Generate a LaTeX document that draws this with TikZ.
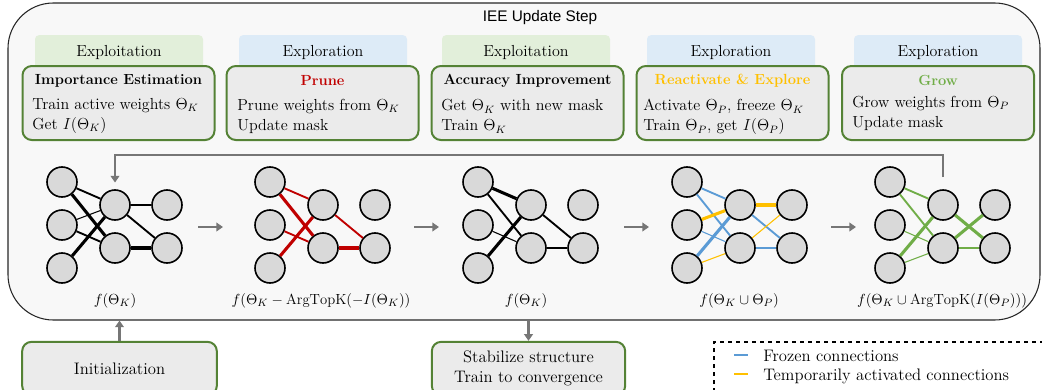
\documentclass[tikz,border=0pt]{standalone}
\usepackage{fontspec}
\newfontfamily\headfont{Liberation Sans}
\usetikzlibrary{arrows.meta,positioning}
\definecolor{cardgreen}{HTML}{548235}
\definecolor{cardgray}{HTML}{EBEBEB}
\definecolor{outerfill}{HTML}{F8F8F8}
\definecolor{tabgreen}{HTML}{E2EFDA}
\definecolor{tabblue}{HTML}{DDEBF7}
\definecolor{nodegray}{HTML}{D9D9D9}
\definecolor{arrowgray}{HTML}{767676}
\definecolor{netred}{HTML}{C00000}
\definecolor{netgold}{HTML}{FFC000}
\definecolor{netblue}{HTML}{5B9BD5}
\definecolor{netgreen}{HTML}{70AD47}

\begin{document}
\begin{tikzpicture}[x=0.75pt,y=-0.75pt]
\tikzset{neuron/.style = {circle, draw=black, line width=1.2pt, fill=nodegray, minimum size=22.5pt, inner sep=0pt}}
\tikzset{w1/.style = {line width=0.8pt}, w2/.style = {line width=1.4pt}, w3/.style = {line width=2.3pt}}
\tikzset{flow/.style = {-{Triangle[length=5pt,width=6.5pt]}, draw=arrowgray, line width=1.8pt}}
\tikzset{card/.style = {rectangle, rounded corners=7pt, draw=cardgreen, line width=1.5pt, fill=cardgray, minimum width=144pt, minimum height=55.5pt}}
\tikzset{tab/.style = {rectangle, rounded corners=3pt, minimum width=126pt, minimum height=26pt, inner sep=0pt, font=\fontsize{12}{14}\selectfont}}
\tikzset{cardtitle/.style = {font=\fontsize{11}{13}\selectfont\bfseries, inner sep=0pt}}
\tikzset{cardbody/.style = {anchor=west, align=left, inner sep=0pt, font=\fontsize{12}{15}\selectfont}}

   \useasboundingbox (0,0) rectangle (1042,389);
   \clip (0,0) rectangle (1042,389);

   % outer update step
   \node[draw=black!85, fill=outerfill, line width=0.8pt, rounded corners=34pt, minimum width=774pt, minimum height=237.75pt] (iee) at (524,161.5) {};
   \node[font=\headfont\fontsize{11.5}{13}\selectfont] (ieetitle) at (540,18) {IEE Update Step};

   % phase tabs and cards
   \node[tab, fill=tabgreen] (tab1) at (119,52.5) {Exploitation};
   \node[tab, fill=tabblue]  (tab2) at (323,52.5) {Exploration};
   \node[tab, fill=tabgreen] (tab3) at (526,52.5) {Exploitation};
   \node[tab, fill=tabblue]  (tab4) at (731,52.5) {Exploration};
   \node[tab, fill=tabblue]  (tab5) at (938,52.5) {Exploration};
   \foreach \k/\x in {1/118.5,2/322.5,3/527.5,4/732.5,5/938}
     {\node[card] (card\k) at (\x,103) {};}

   \node[cardtitle] (ttl1) at (118.5,81) {Importance Estimation};
   \node[cardbody] (body1) at (32,116) {Train active weights $\Theta_K$\\Get $I(\Theta_K)$};
   \node[cardtitle, text=netred] (ttl2) at (322.5,81) {Prune};
   \node[cardbody] (body2) at (237,116.5) {Prune weights from $\Theta_K$\\Update mask};
   \node[cardtitle] (ttl3) at (527.5,81) {Accuracy Improvement};
   \node[cardbody] (body3) at (441,116.5) {Get $\Theta_K$ with new mask\\Train $\Theta_K$};
   \node[cardtitle, text=netgold] (ttl4) at (732.5,81) {Reactivate \& Explore};
   \node[cardbody] (body4) at (643,117) {Activate $\Theta_P$, freeze $\Theta_K$\\Train $\Theta_P$, get $I(\Theta_P)$};
   \node[cardtitle, text=netgreen] (ttl5) at (938,80) {Grow};
   \node[cardbody] (body5) at (852,113.5) {Grow weights from $\Theta_P$\\Update mask};

   % networks
   \foreach \n/\x in {1/62,2/270,3/478,4/687,5/890}
     {\foreach \i/\y in {1/182,2/225,3/268}
        {\node[neuron] (n\n-i\i) at (\x,\y) {};}
      \foreach \j/\y in {1/205,2/248}
        {\node[neuron] (n\n-h\j) at (\x+53,\y) {};
         \node[neuron] (n\n-o\j) at (\x+105,\y) {};}}

   \foreach \a/\b/\w in {i1/h1/w2, i1/h2/w3, i2/h1/w1, i2/h2/w2, i3/h1/w3, h1/o1/w2, h1/o2/w2, h2/o2/w3}
     {\draw[\w] (n1-\a) -- (n1-\b);}
   \foreach \a/\b/\w in {i1/h1/w2, i1/h2/w3, i2/h2/w2, i3/h1/w3, h1/o2/w2, h2/o2/w3}
     {\draw[\w, netred] (n2-\a) -- (n2-\b);}
   \foreach \a/\b/\w in {i1/h1/w3, i1/h2/w2, i2/h2/w1, i3/h1/w3, h1/o2/w2, h2/o2/w2}
     {\draw[\w] (n3-\a) -- (n3-\b);}
   \foreach \a/\b/\w in {i1/h1/w2, i1/h2/w2, i2/h2/w1, i3/h1/w3, h1/o2/w2, h2/o2/w2}
     {\draw[\w, netblue] (n4-\a) -- (n4-\b);}
   \foreach \a/\b/\w in {i2/h1/w3, i3/h2/w1, h1/o1/w3, h2/o1/w1}
     {\draw[\w, netgold] (n4-\a) -- (n4-\b);}
   \foreach \a/\b/\w in {i1/h1/w2, i1/h2/w2, i2/h2/w1, i3/h1/w3, i3/h2/w1, h1/o2/w3, h2/o1/w3, h2/o2/w2}
     {\draw[\w, netgreen] (n5-\a) -- (n5-\b);}

   \node[font=\fontsize{11}{13}\selectfont] (lab1) at (115,301) {$f(\Theta_K)$};
   \node[font=\fontsize{11}{13}\selectfont] (lab2) at (321,301) {$f(\Theta_K - \mathrm{ArgTopK}(-I(\Theta_K))$};
   \node[font=\fontsize{11}{13}\selectfont] (lab3) at (526,301) {$f(\Theta_K)$};
   \node[font=\fontsize{11}{13}\selectfont] (lab4) at (739,301) {$f(\Theta_K \cup \Theta_P)$};
   \node[font=\fontsize{11}{13}\selectfont] (lab5) at (942,301) {$f(\Theta_K \cup \mathrm{ArgTopK}(I(\Theta_P)))$};

   % steps between networks
   \foreach \k/\x in {1/198,2/414,3/624,4/831}
     {\coordinate (s\k) at (\x,227);
      \coordinate (t\k) at (\x+25,227);
      \draw[flow] (s\k) -- (t\k);}

   % loop back
   \coordinate (loopstart) at (943,177);
   \coordinate (looptop) at (0,155);
   \draw[flow, -{Triangle[length=5pt,width=6.5pt]}] (loopstart) -- (loopstart |- looptop) -- (n1-h1 |- looptop) -- ([yshift=5pt]n1-h1.north);

   % outside the loop
   \node[card, minimum width=146pt, minimum height=40pt, font=\fontsize{12.5}{15}\selectfont] (init) at (119.5,368.5) {Initialization};
   \node[card, minimum width=145pt, minimum height=40pt, align=center, font=\fontsize{12.5}{14.5}\selectfont] (stab) at (528.5,368.5) {Stabilize structure\\Train to convergence};
   \draw[flow] (init.north) -- (init.north |- iee.south);
   \draw[flow] (stab.north |- iee.south) -- (stab.north);

   % legend
   \draw[dashed, line width=0.8pt] (714,400) -- (714,342) -- (1060,342);
   \coordinate (key1) at (734,355);
   \coordinate (key2) at (734,374);
   \draw[netblue, line width=2.2pt] (key1) -- ++(14,0);
   \draw[netgold, line width=2.2pt] (key2) -- ++(14,0);
   \node[anchor=west, inner sep=0pt, font=\fontsize{12.5}{14}\selectfont] (leg1) at (763,356) {Frozen connections};
   \node[anchor=west, inner sep=0pt, font=\fontsize{12.5}{14}\selectfont] (leg2) at (763,376) {Temporarily activated connections};

\end{tikzpicture}
\end{document}
